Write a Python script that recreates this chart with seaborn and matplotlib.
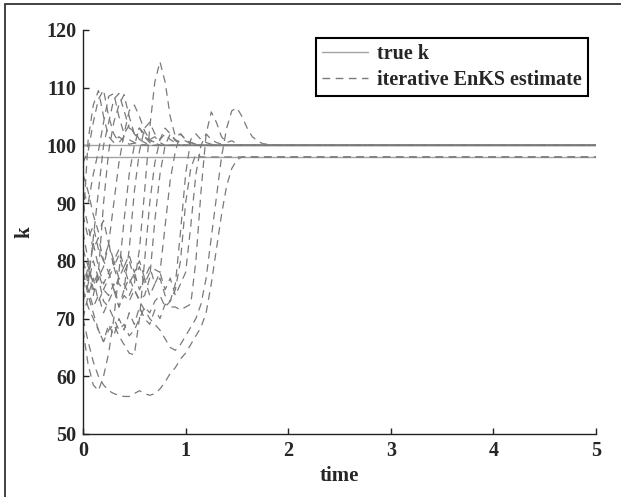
import numpy as np
import pandas as pd
import matplotlib
matplotlib.use("Agg")
import matplotlib.pyplot as plt
from matplotlib.lines import Line2D
from matplotlib.patches import Rectangle
import seaborn as sns

# time grid shared by all ensemble runs
time = [0.00, 0.05, 0.10, 0.15, 0.20, 0.25, 0.30, 0.35, 0.40, 0.45,
        0.50, 0.55, 0.60, 0.65, 0.70, 0.75, 0.80, 0.85, 0.90, 0.95,
        1.00, 1.05, 1.10, 1.15, 1.20, 1.25, 1.30, 1.35, 1.40, 1.45,
        1.50, 1.55, 1.60, 1.65, 1.70, 1.75, 1.80, 1.90, 2.00, 5.00]

# true parameter values (two cases)
true_k = [100.0, 98.0]
true_time = [0.0, 5.0]

# iterative EnKS estimates, one list per run
run01 = [86, 101, 107, 109.5, 105, 101.5, 100.5, 101.5, 100.8, 100.2,
         100.4, 100, 100.1, 100, 100, 100, 100, 100, 100, 100,
         100, 100, 100, 100, 100, 100, 100, 100, 100, 100,
         100, 100, 100, 100, 100, 100, 100, 100, 100, 100]
run02 = [97, 99, 104, 108, 109.6, 105, 102, 100.5, 101.5, 101,
         100.5, 100.2, 100, 100, 100, 100, 100, 100, 100, 100,
         100, 100, 100, 100, 100, 100, 100, 100, 100, 100,
         100, 100, 100, 100, 100, 100, 100, 100, 100, 100]
run03 = [92, 90, 95, 99, 104, 108.5, 109, 105, 102, 103.5,
         102, 101, 100.5, 100, 100, 100, 100, 100, 100, 100,
         100, 100, 100, 100, 100, 100, 100, 100, 100, 100,
         100, 100, 100, 100, 100, 100, 100, 100, 100, 100]
run04 = [80, 76, 84, 92, 100, 104, 108, 109, 106, 103,
         102.5, 101, 101.5, 100.5, 100, 100, 100, 100, 100, 100,
         100, 100, 100, 100, 100, 100, 100, 100, 100, 100,
         100, 100, 100, 100, 100, 100, 100, 100, 100, 100]
run05 = [75, 79, 74, 78, 90, 99, 104, 107, 108.8, 105,
         102, 103, 101.5, 100.8, 100.5, 100, 100, 100, 100, 100,
         100, 100, 100, 100, 100, 100, 100, 100, 100, 100,
         100, 100, 100, 100, 100, 100, 100, 100, 100, 100]
run06 = [73, 76, 80, 77, 79, 83, 90, 97, 102, 106,
         107, 105, 102.5, 101, 101.5, 100.5, 100, 100, 100, 100,
         100, 100, 100, 100, 100, 100, 100, 100, 100, 100,
         100, 100, 100, 100, 100, 100, 100, 100, 100, 100]
run07 = [68, 62, 58.5, 57.5, 60, 64, 70, 78, 87, 95,
         100, 103, 102, 101, 100.5, 100, 100, 100, 100, 100,
         100, 100, 100, 100, 100, 100, 100, 100, 100, 100,
         100, 100, 100, 100, 100, 100, 100, 100, 100, 100]
run08 = [78, 74, 77, 73, 75, 74, 76, 72, 75, 82,
         92, 99, 103, 104, 102, 101, 102, 101, 100.5, 100,
         100, 100, 100, 100, 100, 100, 100, 100, 100, 100,
         100, 100, 100, 100, 100, 100, 100, 100, 100, 100]
run09 = [75, 72, 70, 68, 66, 68, 69, 67, 65.5, 64,
         63.7, 70, 80, 90, 97, 101, 103, 102, 100.8, 100.3,
         100, 100, 100, 100, 100, 100, 100, 100, 100, 100,
         100, 100, 100, 100, 100, 100, 100, 100, 100, 100]
run10 = [80, 77, 83, 79, 76, 78, 75, 77, 76, 74,
         76, 82, 92, 103, 111, 114.5, 111, 105, 101.5, 102,
         101, 100.5, 100.2, 100, 100, 100, 100, 100, 100, 100,
         100, 100, 100, 100, 100, 100, 100, 100, 100, 100]
run11 = [82, 79, 76, 78, 75, 77, 79, 76, 75, 77,
         75, 73.3, 74, 77, 87, 95, 100, 102, 101, 100.5,
         100.8, 100.2, 100, 100, 100, 100, 100, 100, 100, 100,
         100, 100, 100, 100, 100, 100, 100, 100, 100, 100]
run12 = [88, 84, 86, 82, 80, 83, 79, 81, 78, 80,
         77, 79, 76, 78, 78.5, 78, 86, 94, 99, 102,
         101, 100.5, 100.2, 100, 100, 100, 100, 100, 100, 100,
         100, 100, 100, 100, 100, 100, 100, 100, 100, 100]
run13 = [90, 86, 82, 84, 80, 78, 80, 77, 79, 76,
         78, 75, 77, 74, 76, 77, 74, 73, 76, 85,
         95, 101, 102, 101, 100.5, 100.2, 100, 100, 100, 100,
         100, 100, 100, 100, 100, 100, 100, 100, 100, 100]
run14 = [85, 80, 75, 77, 73, 72, 70, 68, 69, 67,
         68, 70, 72, 71, 73, 74, 72, 73, 75, 80,
         90, 96, 98.5, 98, 98, 98, 98, 98, 98, 98,
         98, 98, 98, 98, 98, 98, 98, 98, 98, 98]
run15 = [70, 74, 71, 68, 66, 69, 67, 70, 68, 71,
         69, 72, 70, 69, 71.5, 70, 72.5, 72, 72, 71.5,
         72, 72.5, 80, 92, 102, 105.8, 104, 101.5, 100.5, 100.8,
         100.3, 100, 100, 100, 100, 100, 100, 100, 100, 100]
run16 = [78, 75, 72, 74, 71, 73, 75, 72, 74, 73,
         75, 73, 71.5, 70, 69, 68, 66.5, 65, 64.5, 65.5,
         67, 68.5, 70, 72.5, 77, 84, 91, 98, 103, 106,
         106.5, 105, 103, 101.5, 100.8, 100.3, 100.2, 100, 100, 100]
run17 = [70, 66, 62.5, 60, 58.5, 57.5, 57, 56.7, 56.5, 56.5,
         57, 57.5, 57, 56.7, 57, 57.8, 59, 60.5, 61.5, 63,
         64, 65.5, 67, 68.5, 71, 76, 82, 88, 93, 96,
         97.5, 98, 98, 98, 98, 98, 98, 98, 98, 98]
run18 = [95, 92, 88, 85, 87, 83, 80, 82, 79, 81,
         78, 80, 77, 79, 76, 78, 75, 77, 74, 76,
         78, 86, 95, 100, 102, 101, 100.5, 100.2, 100, 100,
         100, 100, 100, 100, 100, 100, 100, 100, 100, 100]

runs = [run01, run02, run03, run04, run05, run06, run07, run08, run09,
        run10, run11, run12, run13, run14, run15, run16, run17, run18]

TRUE_COLOR = "#a3a3a3"
EST_COLOR = "#7a7a7a"
AXIS_COLOR = "#222222"

sns.set_style("ticks")
plt.rcParams["font.family"] = ["Liberation Serif", "DejaVu Serif"]
plt.rcParams["font.weight"] = "bold"
plt.rcParams["lines.scale_dashes"] = False

# long format tables for seaborn
est_df = pd.DataFrame({
    "time": np.tile(time, len(runs)),
    "k": np.concatenate([np.asarray(r, dtype=float) for r in runs]),
    "run": np.repeat(np.arange(len(runs)), len(time)),
})
true_df = pd.DataFrame({
    "time": np.tile(true_time, len(true_k)),
    "k": np.repeat(true_k, len(true_time)),
    "case": np.repeat(np.arange(len(true_k)), len(true_time)),
})

fig = plt.figure(figsize=(6.21, 4.97), dpi=100)
ax = fig.add_axes([0.1337, 0.1268, 0.826, 0.8129])

sns.lineplot(data=true_df, x="time", y="k", units="case", estimator=None,
             color=TRUE_COLOR, linewidth=1.0, legend=False, ax=ax)
sns.lineplot(data=est_df, x="time", y="k", units="run", estimator=None,
             color=EST_COLOR, linewidth=0.9, linestyle=(0, (5.5, 4)),
             legend=False, ax=ax)

ax.set_xlim(0, 5)
ax.set_ylim(50, 120)
ax.set_xticks([0, 1, 2, 3, 4, 5])
ax.set_yticks([50, 60, 70, 80, 90, 100, 110, 120])
sns.despine(ax=ax)
for side in ["left", "bottom"]:
    ax.spines[side].set_color(AXIS_COLOR)
    ax.spines[side].set_linewidth(1.0)
ax.tick_params(direction="in", length=4, width=1.0, color=AXIS_COLOR,
               labelsize=14.5, pad=5)
for lab in ax.get_xticklabels() + ax.get_yticklabels():
    lab.set_fontweight("bold")

ax.set_xlabel("time", fontsize=15, fontweight="bold", labelpad=4)
ax.set_ylabel("k", fontsize=15, fontweight="bold", labelpad=8)

handles = [
    Line2D([], [], color=TRUE_COLOR, linewidth=1.0),
    Line2D([], [], color=EST_COLOR, linewidth=1.0, linestyle=(0, (5.5, 4))),
]
leg = ax.legend(handles, ["true k", "iterative EnKS estimate"],
                loc="upper right", bbox_to_anchor=(0.984, 0.98),
                borderaxespad=0, fancybox=False, framealpha=1,
                edgecolor="black", handlelength=2.3, handletextpad=0.45,
                labelspacing=0.3, borderpad=0.3,
                prop={"family": "Liberation Serif", "weight": "bold", "size": 14.5})
leg.get_frame().set_linewidth(1.5)

# outer frame of the original figure
fig.patches.append(Rectangle((5 / 621, -0.1), 1.2, 1.1 - 4 / 497,
                             transform=fig.transFigure, fill=False,
                             edgecolor="#333333", linewidth=1.3))

fig.savefig("out.png", dpi=100)
